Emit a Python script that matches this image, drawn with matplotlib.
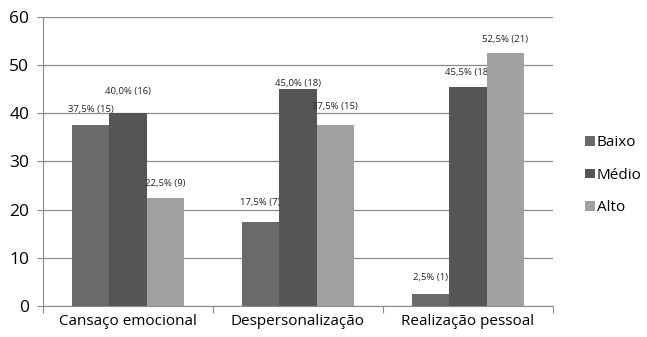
import numpy as np
import matplotlib.pyplot as plt
from matplotlib.patches import Patch

plt.rcParams['font.family'] = ['Open Sans', 'DejaVu Sans']

categorias = ['Cansaço emocional', 'Despersonalização', 'Realização pessoal']
niveis = ['Baixo', 'Médio', 'Alto']
baixo = [37.5, 17.5, 2.5]
medio = [40.0, 45.0, 45.5]
alto = [22.5, 37.5, 52.5]
rot_baixo = ['37,5% (15)', '17,5% (7)', '2,5% (1)']
rot_medio = ['40,0% (16)', '45,0% (18)', '45,5% (18)']
rot_alto = ['22,5% (9)', '37,5% (15)', '52,5% (21)']

cores = ['#6a6a6a', '#555555', '#a0a0a0']
# distância (px) do rótulo acima da barra, como no original
desloc = [[16, 19, 16], [22, 6, 14], [14, 19, 14]]

fig = plt.figure(figsize=(6.47, 3.37), dpi=100)
ax = fig.add_axes([0.0665, 0.092, 0.788, 0.8576])

x = np.arange(len(categorias))
w = 0.22
series = [baixo, medio, alto]
rotulos = [rot_baixo, rot_medio, rot_alto]
for i, (vals, rots) in enumerate(zip(series, rotulos)):
    pos = x + (i - 1) * w
    ax.bar(pos, vals, w, color=cores[i], zorder=3)
    for j, (p, v, r) in enumerate(zip(pos, vals, rots)):
        ax.annotate(r, (p, v), xytext=(0, desloc[i][j] * 0.72),
                    textcoords='offset points', ha='center', va='center',
                    fontsize=6.8, color='#222222')

ax.set_xlim(-0.5, 2.5)
ax.set_ylim(0, 60)
ax.set_yticks(range(0, 61, 10))
ax.yaxis.grid(True, color='#8a8a8a', linewidth=0.9, zorder=0)
ax.set_xticks([-0.5, 0.5, 1.5, 2.5], minor=False)
ax.set_xticklabels([])
ax.set_xticks(x, minor=True)
ax.set_xticklabels(categorias, minor=True, fontsize=11)
ax.tick_params(axis='x', which='minor', length=0, pad=6)
ax.tick_params(axis='x', which='major', length=5, color='#8a8a8a')
ax.tick_params(axis='y', length=4, color='#8a8a8a', labelsize=12.5, pad=6)
for s in ['top', 'right']:
    ax.spines[s].set_visible(False)
ax.spines['left'].set_color('#8a8a8a')
ax.spines['bottom'].set_color('#8a8a8a')

handles = [Patch(facecolor=c, label=n) for c, n in zip(cores, niveis)]
fig.legend(handles=handles, loc='center left', bbox_to_anchor=(0.893, 0.48),
           frameon=False, fontsize=11, handlelength=0.6, handleheight=0.6,
           handletextpad=0.15, labelspacing=1.15, borderpad=0)

fig.savefig('out.png', dpi=100)
